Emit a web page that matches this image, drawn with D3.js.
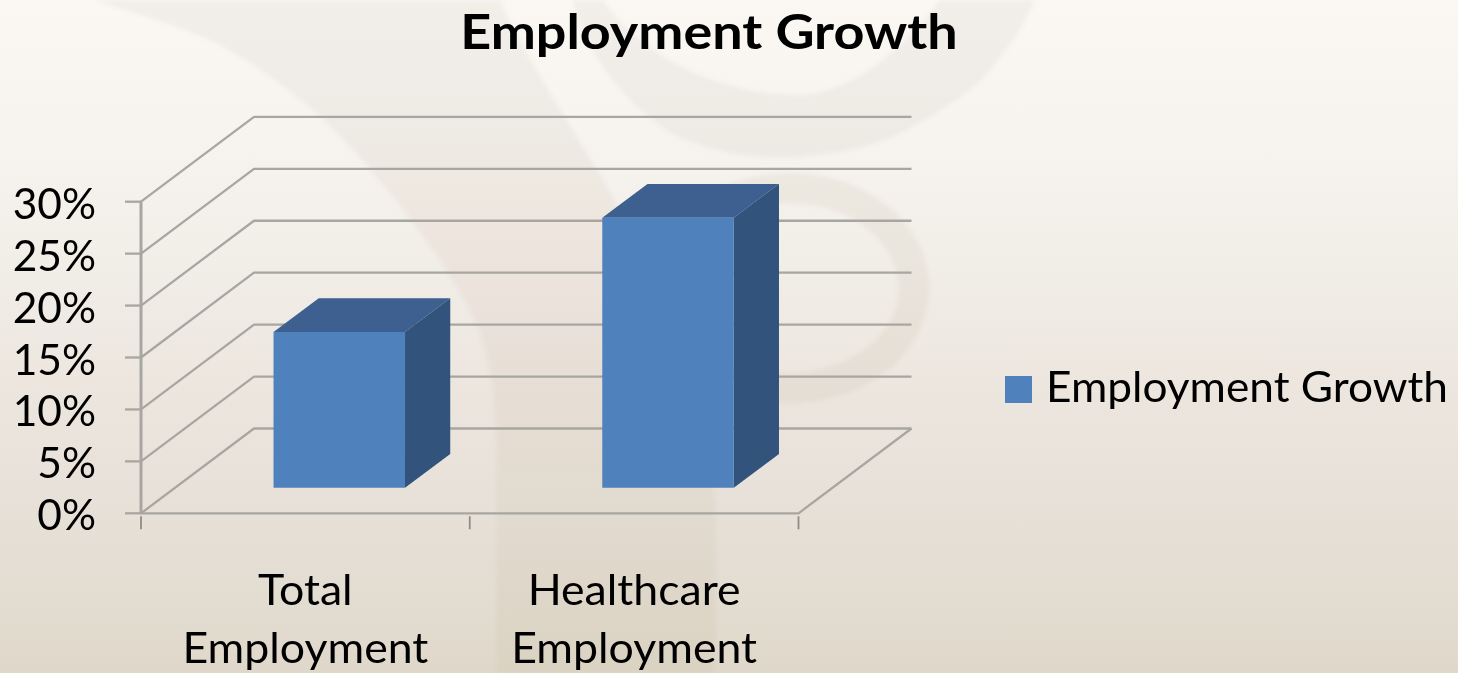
<!DOCTYPE html>
<html><head><meta charset="utf-8">
<style>html,body{margin:0;padding:0;background:#eee}svg{display:block}text{font-family:Lato,"Open Sans",sans-serif;fill:#000}</style>
<script src="https://d3js.org/d3.v7.min.js"></script></head>
<body><svg id="c" width="1458" height="673"></svg>
<script>
const titleText = "Employment Growth";
const seriesName = "Employment Growth";
const categories = ["Total Employment", "Healthcare Employment"];
const categoryLines = [["Total", "Employment"], ["Healthcare", "Employment"]];
const values = [15, 26];
const yTicks = [0, 5, 10, 15, 20, 25, 30];

const W = 1458, H = 673;
const svg = d3.select("#c");
const defs = svg.append("defs");
const bg = defs.append("linearGradient").attr("id","bg").attr("x1",0).attr("y1",0).attr("x2",0).attr("y2",1);
[[0,"#fbf8f4"],[0.2,"#f7f4ef"],[0.4,"#f1ede7"],[0.6,"#ece5de"],[0.8,"#e6dfd6"],[1,"#dfd8ca"]]
  .forEach(([o,c])=>bg.append("stop").attr("offset",o).attr("stop-color",c));
const sw = defs.append("linearGradient").attr("id","sweep").attr("gradientUnits","userSpaceOnUse").attr("x1",0).attr("y1",0).attr("x2",0).attr("y2",673);
[[0,"#8a8270"],[0.2,"#8a8270"],[0.33,"#b07a74"],[0.55,"#a88a78"],[0.8,"#a89868"],[1,"#a89868"]]
  .forEach(([o,c])=>sw.append("stop").attr("offset",o).attr("stop-color",c));
defs.append("filter").attr("id","soft").attr("x","-5%").attr("y","-5%").attr("width","110%").attr("height","110%")
  .append("feGaussianBlur").attr("stdDeviation",0.6);
defs.append("filter").attr("id","softT").attr("x","-5%").attr("y","-5%").attr("width","110%").attr("height","110%")
  .append("feGaussianBlur").attr("stdDeviation",0.4);
defs.append("filter").attr("id","swirl").append("feGaussianBlur").attr("stdDeviation",2);

// background
svg.append("rect").attr("width",W).attr("height",H).attr("fill","url(#bg)");
const deco = svg.append("g").attr("filter","url(#swirl)");
deco.append("path")
  .attr("d","M93,0 C130,12 165,22 193,33 C240,52 290,88 327,123 C390,185 440,255 470,310 C490,350 497,400 497,470 L497,673 L715,673 L715,500 C700,420 680,320 630,230 C590,150 530,70 500,0 Z")
  .attr("fill","url(#sweep)").attr("opacity",0.08);
deco.append("path").attr("fill-rule","evenodd")
  .attr("d","M572,0 C585,50 620,100 671,133 C710,152 750,158 786,157 C830,155 870,148 901,133 C935,115 965,95 978,83 C1005,55 1025,25 1035,0 Z M603,0 C640,55 720,97 805,95 C850,90 885,60 905,40 C920,28 930,12 940,0 Z")
  .attr("fill","#8a8270").attr("opacity",0.08);
deco.append("ellipse").attr("cx",790).attr("cy",288).attr("rx",124).attr("ry",100)
  .attr("fill","none").attr("stroke","#a08c78").attr("stroke-width",30).attr("opacity",0.09);

// scales
const x0 = 141, x1 = 798.5, yBase = 513.3, yTop = 201.7;
const depthX = 113, depthY = -84.8;
const x = d3.scaleBand().domain(categories).range([x0, x1]).paddingInner(0.6).paddingOuter(0.3);
const y = d3.scaleLinear().domain([0, 30]).range([yBase, yTop]);
const proj = (px, v, d) => [px + d * depthX, y(v) + d * depthY];
const line = d3.line();
const gridColor = "#a8a6a0";

const chart = svg.append("g").attr("filter","url(#soft)");
yTicks.forEach(t => {
  chart.append("path").attr("fill","none").attr("stroke",gridColor).attr("stroke-width",2.3)
    .attr("stroke-linejoin","round")
    .attr("d", line([proj(x0,t,0), proj(x0,t,1), proj(x1,t,1)]));
  chart.append("line").attr("x1",x0-16).attr("x2",x0).attr("y1",y(t)).attr("y2",y(t))
    .attr("stroke",gridColor).attr("stroke-width",2.3);
});
chart.append("path").attr("fill","none").attr("stroke",gridColor).attr("stroke-width",2.3)
  .attr("d", line([proj(x0,0,0), proj(x1,0,0), proj(x1,0,1)]));
chart.append("line").attr("x1",x0).attr("x2",x0).attr("y1",y(30)).attr("y2",y(0))
  .attr("stroke",gridColor).attr("stroke-width",3);
[x0, (x0+x1)/2, x1].forEach(px => chart.append("line").attr("x1",px).attr("x2",px).attr("y1",yBase+3).attr("y2",yBase+16)
  .attr("stroke","#8e8c87").attr("stroke-width",1.8));

// bars
const dFront = 0.3, dBack = 0.7;
categories.forEach((c,i) => {
  const l = x(c), r = l + x.bandwidth(), v = values[i];
  const g = chart.append("g");
  g.append("path").attr("fill","#3c6190")
    .attr("d", line([proj(l,v,dFront),proj(r,v,dFront),proj(r,v,dBack),proj(l,v,dBack)])+"Z");
  g.append("path").attr("fill","#30527b")
    .attr("d", line([proj(r,0,dFront),proj(r,v,dFront),proj(r,v,dBack),proj(r,0,dBack)])+"Z");
  g.append("path").attr("fill","#4f81bd")
    .attr("d", line([proj(l,0,dFront),proj(r,0,dFront),proj(r,v,dFront),proj(l,v,dFront)])+"Z");
});

// text: Lato glyphs widened to the reference's proportions
const txt = svg.append("g").attr("filter","url(#softT)");
function fit(sel, k){
  sel.attr("lengthAdjust","spacingAndGlyphs").attr("textLength", sel.node().getComputedTextLength()*k);
  return sel;
}
fit(txt.append("text").attr("x",709).attr("y",49).attr("text-anchor","middle")
  .attr("font-size",48).attr("font-weight",700).text(titleText), 1.123);
yTicks.forEach(t => fit(txt.append("text").attr("x",96).attr("y",y(t)+17).attr("text-anchor","end")
  .attr("font-size",42.5).text(t+"%"), 1.0));
const centers = categories.map(c => x(c) + x.bandwidth()/2);
categoryLines.forEach((ls,i) => ls.forEach((s,j) => fit(txt.append("text")
  .attr("x",centers[i]).attr("y",605+58*j).attr("text-anchor","middle").attr("font-size",42.5).text(s), 1.05)));

// legend
chart.append("rect").attr("x",1005).attr("y",376).attr("width",27).attr("height",27).attr("fill","#4f81bd");
fit(txt.append("text").attr("x",1046).attr("y",402).attr("font-size",42.5).text(seriesName), 1.04);
</script></body></html>
